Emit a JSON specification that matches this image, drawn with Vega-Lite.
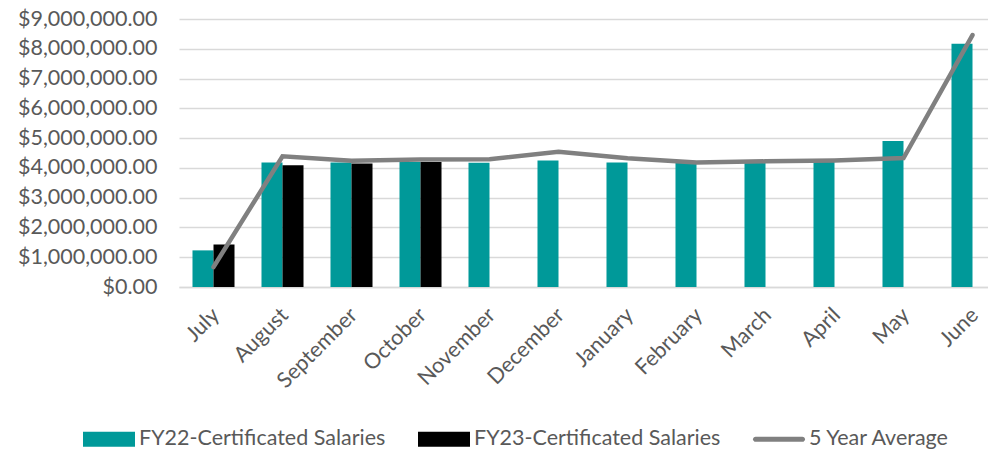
{
  "$schema": "https://vega.github.io/schema/vega-lite/v6.json",
  "width": 828,
  "height": 268,
  "autosize": {"type": "none"},
  "padding": {"left": 179, "top": 19, "right": 0, "bottom": 166},
  "background": "white",
  "config": {
    "view": {"stroke": null},
    "font": "Lato",
    "axis": {"labelFont": "Lato", "labelColor": "#595959"}
  },
  "datasets": {
    "bars": [
      {"month": "July", "series": "FY22-Certificated Salaries", "value": 1230000},
      {"month": "August", "series": "FY22-Certificated Salaries", "value": 4180000},
      {"month": "September", "series": "FY22-Certificated Salaries", "value": 4180000},
      {"month": "October", "series": "FY22-Certificated Salaries", "value": 4200000},
      {"month": "November", "series": "FY22-Certificated Salaries", "value": 4170000},
      {"month": "December", "series": "FY22-Certificated Salaries", "value": 4250000},
      {"month": "January", "series": "FY22-Certificated Salaries", "value": 4180000},
      {"month": "February", "series": "FY22-Certificated Salaries", "value": 4170000},
      {"month": "March", "series": "FY22-Certificated Salaries", "value": 4200000},
      {"month": "April", "series": "FY22-Certificated Salaries", "value": 4200000},
      {"month": "May", "series": "FY22-Certificated Salaries", "value": 4900000},
      {"month": "June", "series": "FY22-Certificated Salaries", "value": 8170000},
      {"month": "July", "series": "FY23-Certificated Salaries", "value": 1430000},
      {"month": "August", "series": "FY23-Certificated Salaries", "value": 4090000},
      {"month": "September", "series": "FY23-Certificated Salaries", "value": 4150000},
      {"month": "October", "series": "FY23-Certificated Salaries", "value": 4200000}
    ],
    "avg": [
      {"month": "July", "series": "5 Year Average", "value": 670000},
      {"month": "August", "series": "5 Year Average", "value": 4390000},
      {"month": "September", "series": "5 Year Average", "value": 4240000},
      {"month": "October", "series": "5 Year Average", "value": 4280000},
      {"month": "November", "series": "5 Year Average", "value": 4290000},
      {"month": "December", "series": "5 Year Average", "value": 4540000},
      {"month": "January", "series": "5 Year Average", "value": 4320000},
      {"month": "February", "series": "5 Year Average", "value": 4180000},
      {"month": "March", "series": "5 Year Average", "value": 4220000},
      {"month": "April", "series": "5 Year Average", "value": 4250000},
      {"month": "May", "series": "5 Year Average", "value": 4330000},
      {"month": "June", "series": "5 Year Average", "value": 8460000}
    ]
  },
  "encoding": {
    "x": {
      "field": "month",
      "type": "nominal",
      "sort": ["July","August","September","October","November","December","January","February","March","April","May","June"],
      "scale": {"paddingInner": 0.391, "paddingOuter": 0.1955},
      "axis": {
        "title": null,
        "labelAngle": -45,
        "labelFontSize": 21.5,
        "labelPadding": 17,
        "labelOffset": -5,
        "ticks": false,
        "domain": true,
        "domainColor": "#d9d9d9",
        "domainWidth": 1.5,
        "grid": false
      }
    },
    "y": {
      "field": "value",
      "type": "quantitative",
      "scale": {"domain": [0, 9000000], "nice": false},
      "axis": {
        "title": null,
        "format": "$,.2f",
        "values": [0,1000000,2000000,3000000,4000000,5000000,6000000,7000000,8000000,9000000],
        "labelFontSize": 21.5,
        "labelPadding": 22,
        "ticks": false,
        "domain": false,
        "gridColor": "#d9d9d9",
        "gridWidth": 1.5
      }
    },
    "color": {
      "field": "series",
      "type": "nominal",
      "scale": {
        "domain": ["FY22-Certificated Salaries", "FY23-Certificated Salaries", "5 Year Average"],
        "range": ["#009999", "#000000", "#808080"]
      },
      "legend": {
        "title": null,
        "orient": "none",
        "direction": "horizontal",
        "legendX": -96,
        "legendY": 394,
        "labelFontSize": 21.5,
        "labelColor": "#595959",
        "labelFont": "Lato",
        "labelLimit": 400,
        "symbolSize": 2704,
        "columnPadding": 32,
        "labelOffset": 4,
        "encode": {
          "symbols": {
            "update": {
              "shape": {"signal": "datum.value == '5 Year Average' ? 'M-0.9,-0.1H0.9A0.1,0.1 0 0 1 0.9,0.1H-0.9A0.1,0.1 0 0 1 -0.9,-0.1Z' : 'M-1,-0.29H1V0.29H-1Z'"},
              "fill": {"signal": "datum.value == '5 Year Average' ? '#808080' : (datum.value == 'FY22-Certificated Salaries' ? '#009999' : '#000000')"},
              "stroke": {"value": "transparent"},
              "strokeWidth": {"value": 0},
              "opacity": {"value": 1},
              "fillOpacity": {"value": 1}
            }
          }
        }
      }
    }
  },
  "layer": [
    {
      "data": {"name": "bars"},
      "mark": {"type": "bar"},
      "encoding": {
        "xOffset": {
          "field": "series",
          "type": "nominal",
          "scale": {"domain": ["FY22-Certificated Salaries", "FY23-Certificated Salaries"], "paddingInner": 0, "paddingOuter": 0}
        }
      }
    },
    {
      "data": {"name": "avg"},
      "mark": {"type": "line", "strokeWidth": 4.5, "strokeCap": "round", "strokeJoin": "miter"},
      "encoding": {}
    }
  ]
}
